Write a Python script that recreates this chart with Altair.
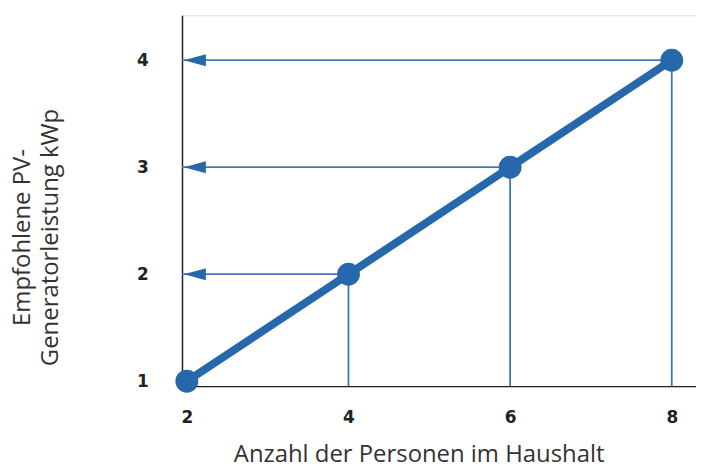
import altair as alt
import pandas as pd

persons = [2, 4, 6, 8]
kwp = [1, 2, 3, 4]
x_ticks = [2, 4, 6, 8]
y_ticks = [1, 2, 3, 4]
x_title = "Anzahl der Personen im Haushalt"
y_title = ["Empfohlene PV-", "Generatorleistung kWp"]

X_MIN, X_MAX = 1.94, 8.3
Y_MIN, Y_MAX = 0.954, 4.42

df = pd.DataFrame({"p": persons, "k": kwp})
guides = df[df["p"] > persons[0]].copy()
guides["xmin"] = X_MIN
guides["ymin"] = Y_MIN

thick = "#2767ab"
thin = "#3f78b8"

xs = alt.Scale(domain=[X_MIN, X_MAX], nice=False, zero=False)
ys = alt.Scale(domain=[Y_MIN, Y_MAX], nice=False, zero=False)

x_axis = alt.Axis(
    values=x_ticks, format="d", title=x_title, grid=False, ticks=False,
    domainColor="#222222", domainWidth=1.5, labelPadding=24,
    labelFont="DejaVu Sans", labelFontWeight="bold", labelFontSize=17, labelColor="#222222",
    titleFont="Open Sans", titleFontSize=24, titleFontWeight="normal", titleColor="#333333",
    titleX=238, titleY=76, titleBaseline="alphabetic",
)
y_axis = alt.Axis(
    values=y_ticks, format="d", title=y_title, grid=False, ticks=False,
    domainColor="#222222", domainWidth=1.5, labelPadding=34,
    labelFont="DejaVu Sans", labelFontWeight="bold", labelFontSize=17, labelColor="#222222",
    titleFont="Open Sans", titleFontSize=24, titleFontWeight="normal", titleColor="#333333",
    titleX=-160, titleY=223, titleAngle=-90, titleBaseline="middle", titleAlign="center",
    titleLineHeight=28,
)

base = alt.Chart(df)

vlines = alt.Chart(guides).mark_rule(color=thin, strokeWidth=1.8).encode(
    x=alt.X("p:Q", scale=xs, axis=x_axis),
    y=alt.Y("k:Q", scale=ys, axis=y_axis),
    y2="ymin:Q",
)
hlines = alt.Chart(guides).mark_rule(color=thin, strokeWidth=1.8).encode(
    x=alt.X("xmin:Q", scale=xs),
    x2="p:Q",
    y=alt.Y("k:Q", scale=ys),
)
arrows = alt.Chart(guides).mark_point(
    shape="M 0 0 L 2 -0.55 L 2 0.55 Z", filled=True, opacity=1, color=thick, size=484, xOffset=2
).encode(
    x=alt.X("xmin:Q", scale=xs),
    y=alt.Y("k:Q", scale=ys),
)
line = base.mark_line(color=thick, strokeWidth=8, strokeCap="round").encode(
    x=alt.X("p:Q", scale=xs),
    y=alt.Y("k:Q", scale=ys),
)
pts = base.mark_circle(color=thick, size=529, opacity=1).encode(
    x=alt.X("p:Q", scale=xs),
    y=alt.Y("k:Q", scale=ys),
)

chart = alt.layer(vlines, hlines, arrows, line, pts).properties(
    width=517, height=373,
    autosize=alt.AutoSizeParams(type="none"),
    padding={"left": 175, "top": 6, "right": 0, "bottom": 77},
).configure_view(stroke=None).configure(background="white")

chart.save("out.html", embed_options={"renderer": "svg", "actions": False})
